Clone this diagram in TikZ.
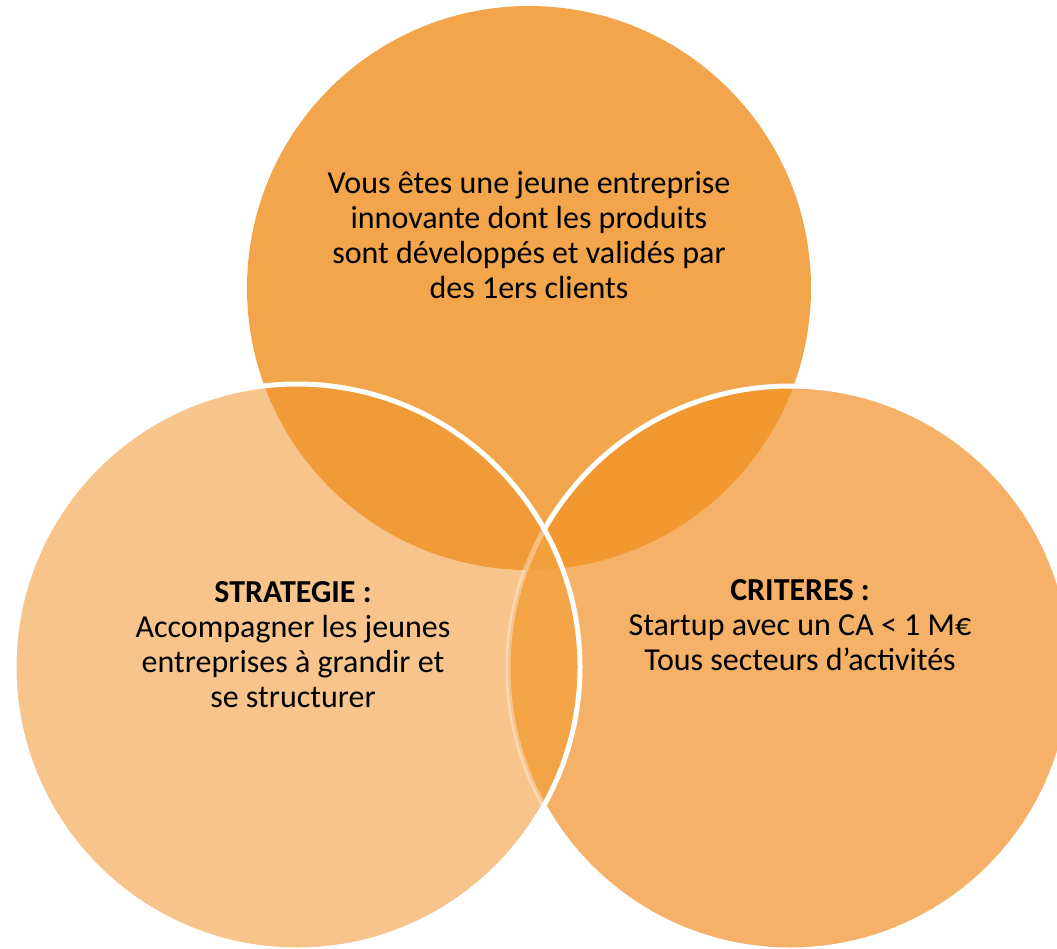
\documentclass[tikz,border=0pt]{standalone}
\usepackage{fontspec}
\setmainfont{Carlito}
\definecolor{ctop}{HTML}{F2A54A}
\definecolor{cleft}{HTML}{F7C48B}
\definecolor{cright}{HTML}{F5B167}
\definecolor{ctl}{HTML}{F19B38}
\definecolor{ctr}{HTML}{F19930}
\definecolor{clr}{HTML}{F3A446}
\definecolor{call}{HTML}{F29F3E}
\newcommand\CTop{(529,288) circle (282pt)}
\newcommand\CLeft{(297,667) circle (283pt)}
\newcommand\CRight{(790,668) circle (282pt)}
\newcommand\myregions{%
  \fill[ctop] \CTop;
  \fill[cright] \CRight;
  \fill[cleft] \CLeft;
  \begin{scope}\clip \CTop; \fill[ctl] \CLeft; \fill[ctr] \CRight;\end{scope}
  \begin{scope}\clip \CLeft; \fill[clr] \CRight; \clip \CTop; \fill[call] \CRight;\end{scope}
}
\tikzset{label text/.style={align=center,text=black,font=\fontsize{32}{35}\selectfont},
  rim/.style={draw=white,line width=5pt}}
\begin{document}
\begin{tikzpicture}[x=1pt,y=-1pt]
\useasboundingbox (0,0) rectangle (1057,949);
\clip (0,0) rectangle (1057,949);
\myregions
\draw[rim] \CRight;
\begin{scope}
  \clip \CLeft;
  \myregions
  \draw[rim,draw opacity=0.35] \CRight;
\end{scope}
\draw[rim] \CLeft;
\node[label text] (ttop) at (529,235) {Vous êtes une jeune entreprise\\innovante dont les produits\\sont développés et validés par\\des 1ers clients};
\node[label text] (tleft) at (293,645) {\textbf{STRATEGIE :}\\Accompagner les jeunes\\entreprises à grandir et\\se structurer};
\node[label text] (tright) at (800,625) {\textbf{CRITERES :}\\Startup avec un CA < 1 M€\\Tous secteurs d’activités};
\end{tikzpicture}
\end{document}
